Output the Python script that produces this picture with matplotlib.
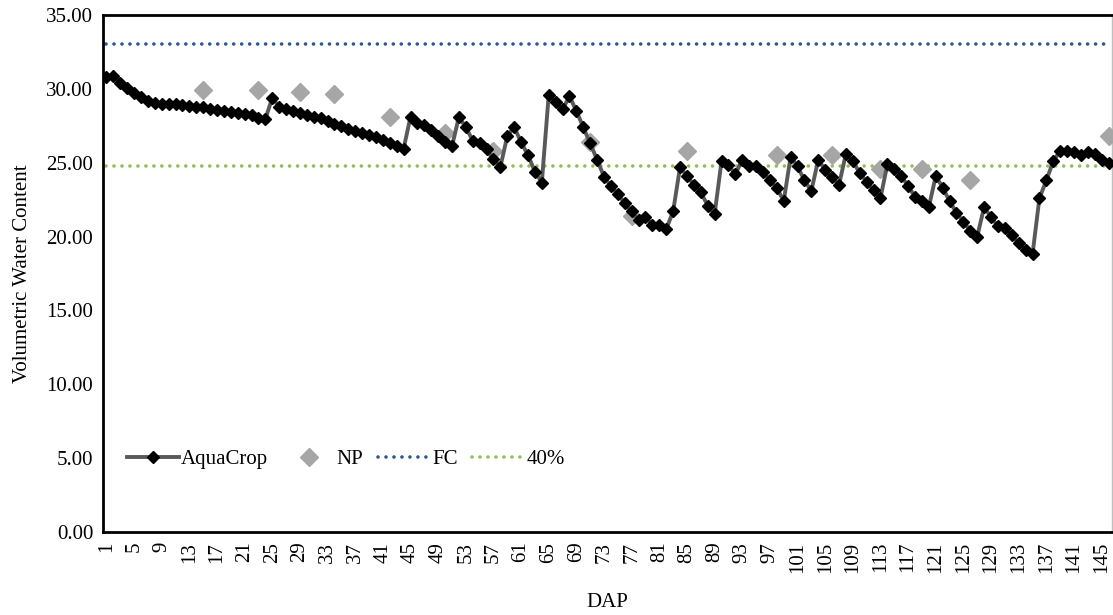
import matplotlib.pyplot as plt

# Datos
days = list(range(1, 147))
aquacrop = [
    30.8, 30.9, 30.4, 30.05, 29.7, 29.45, 29.2, 29.05, 29.0, 29.0,
    28.95, 28.9, 28.85, 28.8, 28.75, 28.65, 28.55, 28.5, 28.4, 28.35,
    28.3, 28.2, 28.05, 27.95, 29.4, 28.75, 28.6, 28.5, 28.35, 28.25,
    28.1, 28.0, 27.8, 27.6, 27.45, 27.3, 27.15, 27.0, 26.9, 26.75,
    26.55, 26.35, 26.15, 25.95, 28.1, 27.7, 27.55, 27.2, 26.8, 26.4,
    26.1, 28.1, 27.4, 26.5, 26.3, 25.9, 25.25, 24.7, 26.8, 27.4,
    26.4, 25.5, 24.4, 23.65, 29.6, 29.1, 28.6, 29.5, 28.5, 27.4,
    26.3, 25.2, 24.05, 23.4, 22.9, 22.25, 21.7, 21.1, 21.3, 20.8,
    20.8, 20.5, 21.7, 24.7, 24.1, 23.5, 23.0, 22.1, 21.5, 25.1,
    24.85, 24.2, 25.2, 24.8, 24.8, 24.4, 23.8, 23.3, 22.4, 25.4,
    24.75, 23.8, 23.1, 25.2, 24.5, 24.0, 23.5, 25.6, 25.1, 24.3,
    23.7, 23.15, 22.6, 24.9, 24.6, 24.1, 23.4, 22.7, 22.4, 22.0,
    24.1, 23.3, 22.4, 21.6, 21.0, 20.4, 20.0, 22.0, 21.3, 20.7,
    20.55, 20.1, 19.55, 19.1, 18.8, 22.6, 23.8, 25.1, 25.8, 25.8,
    25.7, 25.5, 25.75, 25.6, 25.2, 24.95,
]
np_days = [15, 23, 29, 34, 42, 50, 57, 71, 77, 85, 98, 106, 113, 119, 126, 146]
np_vals = [29.9, 29.9, 29.8, 29.65, 28.1, 27.0, 25.8, 26.4, 21.4, 25.8,
           25.5, 25.5, 24.55, 24.55, 23.8, 26.8]
fc = 33.0
pct40 = 24.75

plt.rcParams['font.family'] = ['Liberation Serif', 'DejaVu Serif']
fs = 15

fig = plt.figure(figsize=(11.13, 6.15), dpi=100)
ax = fig.add_axes([0.0925, 0.135, 0.9066, 0.8407])

ax.plot(days, aquacrop, color='#595959', lw=2.8, marker='D', ms=6,
        mfc='black', mec='black', label='AquaCrop', zorder=4)
ax.plot(np_days, np_vals, ls='none', marker='D', ms=9, color='#A6A6A6',
        label='NP', zorder=3)
ax.plot(days, [fc] * len(days), color='#2F5597', lw=2.6,
        ls=(0, (0.01, 2.2)), dash_capstyle='round', label='FC', zorder=2)
ax.plot(days, [pct40] * len(days), color='#92C050', lw=2.6,
        ls=(0, (0.01, 2.2)), dash_capstyle='round', label='40%', zorder=2)

ax.set_xlim(0.5, 146.5)
ax.set_ylim(0, 35)
ax.set_yticks(range(0, 36, 5))
ax.set_yticklabels(['%.2f' % v for v in range(0, 36, 5)], fontsize=fs)
ax.set_xticks(days[::4])
ax.set_xticklabels([str(d) for d in days[::4]], rotation=90, fontsize=fs)
ax.tick_params(length=0, pad=7)

ax.set_xlabel('DAP', fontsize=fs, labelpad=14)
ax.set_ylabel('Volumetric Water Content', fontsize=fs, labelpad=10)

for s in ['left', 'bottom', 'top']:
    ax.spines[s].set_linewidth(2)
    ax.spines[s].set_color('black')
ax.spines['right'].set_color('#BFBFBF')
ax.spines['right'].set_linewidth(1)

leg = ax.legend(loc='lower left', bbox_to_anchor=(0.005, 0.085), ncol=4,
                frameon=False, fontsize=fs, handlelength=2.5,
                columnspacing=0.7, handletextpad=0.1)

plt.savefig('out.png', dpi=100)
